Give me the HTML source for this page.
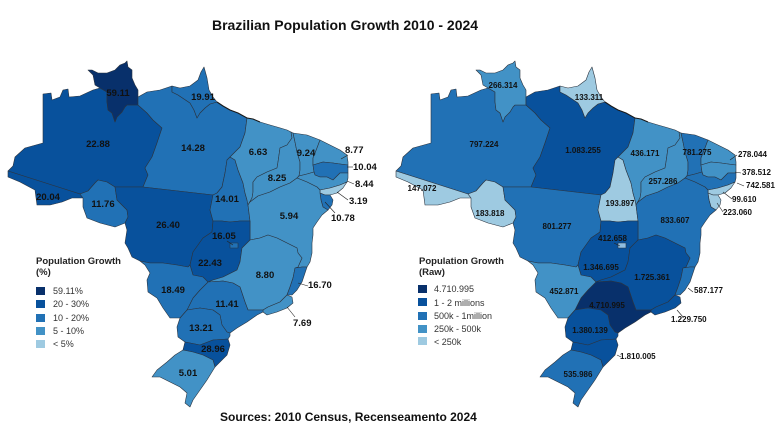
<!DOCTYPE html>
<html><head><meta charset="utf-8"><style>
html,body{margin:0;padding:0;background:#fff;}
svg{display:block;}
.l{font-family:"Liberation Sans",Arial,sans-serif;font-weight:bold;font-size:9.5px;fill:#111;text-anchor:middle;}
.r{font-family:"Liberation Sans",Arial,sans-serif;font-weight:bold;font-size:8px;fill:#111;text-anchor:middle;}
.ls{text-anchor:start;}
.lg{font-family:"Liberation Sans",Arial,sans-serif;font-size:9px;fill:#333;}
.lt{font-family:"Liberation Sans",Arial,sans-serif;font-size:9.5px;font-weight:bold;fill:#222;}
</style></head><body>
<svg width="780" height="429" viewBox="0 0 780 429" xmlns="http://www.w3.org/2000/svg">
<rect width="780" height="429" fill="#fff"/>
<defs>
<polygon id="AM" points="43,94 51,93 52,100 60,97 63,90 68,89 69,97 80,96 93,90 100,88 107,92 107,102 108,110 112,113 115,122 117,117 122,112 125,107 127,105 138,105 147,113 153,120 162,128 157,143 152,157 145,168 148,175 143,187 115,187 107,182 98,180 95,183 88,191 80,194 8,171 13,166 15,157 25,148 43,143"/>
<polygon id="RR" points="100,88 95,85 93,75 88,70 92,70 98,73 107,73 115,70 120,65 125,63 127,61 128,67 132,70 132,78 135,85 138,90 138,105 127,105 125,107 122,112 117,117 115,122 112,113 108,110 107,102 107,92"/>
<polygon id="AC" points="8,171 80,194 83,198 72,198 62,202 50,205 37,205 35,190 20,182 8,177"/>
<polygon id="RO" points="80,194 88,191 95,183 98,180 107,182 115,187 117,200 127,210 128,217 125,223 115,227 100,223 87,218 83,207 83,198"/>
<polygon id="PA" points="138,97 147,92 160,90 172,86 172,92 178,95 184,99 190,103 194,110 197,118 200,113 205,108 210,104 217,102 223,106 230,110 238,113 247,118 245,133 240,147 230,157 227,160 225,173 222,187 217,193 213,195 143,187 148,175 145,168 152,157 157,143 162,128 153,120 147,113 138,105"/>
<polygon id="AP" points="172,86 180,88 190,86 198,80 201,72 204,67 207,78 209,90 213,97 217,102 210,104 205,108 200,113 197,118 194,110 190,103 184,99 178,95 172,92"/>
<polygon id="MT" points="115,187 143,187 213,195 210,210 213,221 212,232 203,238 193,252 190,265 188,267 177,265 163,263 150,263 140,261 132,257 128,248 125,243 127,230 125,223 128,217 127,210 117,200"/>
<polygon id="TO" points="213,195 217,193 222,187 225,173 227,160 230,157 235,160 238,170 243,183 245,193 247,200 248,205 250,221 240,221 230,222 222,221 213,221 210,210"/>
<polygon id="MA" points="247,118 253,119 260,122 270,125 277,127 287,130 291,132 292,138 287,145 280,148 278,162 277,168 267,172 257,177 253,182 253,192 252,198 248,205 247,200 245,193 243,183 238,170 235,160 230,157 240,147 245,133"/>
<polygon id="PI" points="291,132 293,133 295,142 297,152 300,162 300,170 299,176 297,178 290,183 280,187 270,192 258,196 250,202 248,205 252,198 253,192 253,182 257,177 267,172 277,168 278,162 280,148 287,145 292,138"/>
<polygon id="CE" points="293,133 307,135 320,140 317,148 313,158 313,165 314,172 307,174 299,176 300,170 300,162 297,152 295,142"/>
<polygon id="RN" points="320,140 330,145 340,150 347,155 348,162 348,165 340,164 333,163 323,162 313,165 313,158 317,148"/>
<polygon id="PB" points="313,165 323,162 333,163 340,164 348,165 348,173 340,173 333,180 327,177 320,177 315,175 314,172"/>
<polygon id="PE" points="299,176 307,174 314,172 315,175 320,177 327,177 333,180 340,173 348,173 348,178 347,182 340,185 330,188 320,190 317,187 307,182 297,178"/>
<polygon id="AL" points="320,190 330,188 340,185 347,182 343,188 337,193 330,195 325,195 320,193"/>
<polygon id="SE" points="320,193 325,195 330,195 333,200 332,205 328,210 323,207 321,200"/>
<polygon id="BA" points="248,205 250,202 258,196 270,192 280,187 290,183 297,178 307,182 317,187 320,190 320,193 321,200 323,207 328,210 322,215 317,222 313,228 313,235 312,243 312,253 310,262 307,267 302,267 295,268 298,267 302,258 298,253 297,248 287,243 277,238 268,235 260,238 250,240 250,221"/>
<polygon id="GO" points="213,221 222,221 230,222 240,221 250,221 250,240 242,248 240,262 237,270 223,277 213,280 208,282 203,277 193,275 190,265 193,252 203,238 212,232"/>
<polygon id="MG" points="250,240 260,238 268,235 277,238 287,243 297,248 298,253 302,258 298,267 295,268 293,278 290,287 287,295 280,302 268,307 263,310 257,310 248,310 245,302 240,287 233,283 223,281 208,282 213,280 223,277 237,270 240,262 242,248"/>
<polygon id="ES" points="295,268 302,267 307,267 305,273 302,282 297,290 292,295 287,295 290,287 293,278"/>
<polygon id="RJ" points="287,295 292,297 293,303 287,308 277,312 267,315 263,312 263,310 268,307 280,302"/>
<polygon id="SP" points="208,282 223,281 233,283 240,287 245,302 248,310 257,310 263,310 263,312 257,315 247,322 237,328 230,333 227,332 222,325 220,315 213,310 200,308 187,310 193,298 200,290"/>
<polygon id="MS" points="140,261 150,263 163,263 177,265 188,267 190,265 193,275 203,277 208,282 200,290 193,298 187,310 180,318 170,318 163,308 157,298 148,292 147,280 150,273 145,265"/>
<polygon id="PR" points="187,310 200,308 213,310 220,315 222,325 227,332 230,333 230,336 228,339 213,340 200,345 185,342 178,337 177,327 180,318"/>
<polygon id="SC" points="185,342 200,345 213,340 228,339 230,345 227,355 220,362 215,367 213,360 203,355 193,352 183,350"/>
<polygon id="RS" points="183,350 193,352 203,355 213,360 215,367 207,380 200,390 193,400 190,407 185,403 187,393 180,387 170,382 160,377 152,377 157,370 167,362 175,355"/>
<rect id="DF" x="230" y="243" width="8" height="5"/>
</defs>

<text x="212" y="30" font-family="Liberation Sans, Arial, sans-serif" font-weight="bold" font-size="14" fill="#111">Brazilian Population Growth 2010 - 2024</text>

<!-- LEFT MAP -->
<g stroke="#2b3440" stroke-width="0.6" stroke-linejoin="round">
<use href="#AM" fill="#08519c"/>
<use href="#RR" fill="#08306b"/>
<use href="#AC" fill="#08519c"/>
<use href="#RO" fill="#2171b5"/>
<use href="#PA" fill="#2171b5"/>
<use href="#AP" fill="#2171b5"/>
<use href="#MT" fill="#08519c"/>
<use href="#TO" fill="#2171b5"/>
<use href="#MA" fill="#4292c6"/>
<use href="#PI" fill="#4292c6"/>
<use href="#CE" fill="#4292c6"/>
<use href="#RN" fill="#4292c6"/>
<use href="#PB" fill="#2171b5"/>
<use href="#PE" fill="#4292c6"/>
<use href="#AL" fill="#9ecae1"/>
<use href="#SE" fill="#2171b5"/>
<use href="#BA" fill="#4292c6"/>
<use href="#GO" fill="#08519c"/>
<use href="#MG" fill="#4292c6"/>
<use href="#ES" fill="#2171b5"/>
<use href="#RJ" fill="#4292c6"/>
<use href="#SP" fill="#2171b5"/>
<use href="#MS" fill="#2171b5"/>
<use href="#PR" fill="#2171b5"/>
<use href="#SC" fill="#08519c"/>
<use href="#RS" fill="#4292c6"/>
<use href="#DF" fill="#2171b5"/>
</g>
<polyline points="217,102 223,106 230,110 238,113 247,118 253,119 260,122" fill="none" stroke="#1a1a1a" stroke-width="1.1"/>
<g stroke="#222" stroke-width="0.6" fill="none">
<line x1="341" y1="159" x2="348" y2="155"/>
<line x1="347" y1="167" x2="353" y2="167"/>
<line x1="347" y1="181" x2="354" y2="184"/>
<line x1="337" y1="192" x2="348" y2="200"/>
<line x1="325" y1="202" x2="335" y2="213"/>
<line x1="227" y1="241" x2="233" y2="245"/>
<line x1="298" y1="283" x2="308" y2="286"/>
<line x1="287" y1="307" x2="295" y2="317"/>
</g>
<text class="l" x="118" y="96">59.11</text>
<text class="l" x="203" y="100">19.91</text>
<text class="l" x="98" y="147">22.88</text>
<text class="l" x="193" y="151">14.28</text>
<text class="l" x="258" y="155">6.63</text>
<text class="l" x="306" y="156">9.24</text>
<text class="l" x="277" y="181">8.25</text>
<text class="l" x="48" y="200">20.04</text>
<text class="l" x="103" y="207">11.76</text>
<text class="l" x="227" y="202">14.01</text>
<text class="l" x="289" y="219">5.94</text>
<text class="l" x="168" y="228">26.40</text>
<text class="l" x="210" y="266">22.43</text>
<text class="l" x="265" y="278">8.80</text>
<text class="l" x="173" y="293">18.49</text>
<text class="l" x="227" y="307">11.41</text>
<text class="l" x="201" y="331">13.21</text>
<text class="l" x="213" y="352">28.96</text>
<text class="l" x="188" y="376">5.01</text>
<text class="l ls" x="345" y="153">8.77</text>
<text class="l ls" x="353" y="170">10.04</text>
<text class="l ls" x="355" y="187">8.44</text>
<text class="l ls" x="349" y="204">3.19</text>
<text class="l ls" x="331" y="221">10.78</text>
<text class="l ls" x="212" y="239">16.05</text>
<text class="l ls" x="308" y="288">16.70</text>
<text class="l ls" x="293" y="326">7.69</text>

<!-- left legend -->
<text class="lt" x="36" y="264">Population Growth</text>
<text class="lt" x="36" y="275">(%)</text>
<rect x="36" y="287" width="9" height="8" fill="#08306b"/>
<rect x="36" y="300" width="9" height="8" fill="#08519c"/>
<rect x="36" y="314" width="9" height="8" fill="#2171b5"/>
<rect x="36" y="327" width="9" height="8" fill="#4292c6"/>
<rect x="36" y="340" width="9" height="8" fill="#9ecae1"/>
<text class="lg" x="53" y="294">59.11%</text>
<text class="lg" x="53" y="307">20 - 30%</text>
<text class="lg" x="53" y="321">10 - 20%</text>
<text class="lg" x="53" y="334">5 - 10%</text>
<text class="lg" x="53" y="347">&lt; 5%</text>

<!-- RIGHT MAP -->
<g transform="translate(388,0)" stroke="#2b3440" stroke-width="0.6" stroke-linejoin="round">
<use href="#AM" fill="#2171b5"/>
<use href="#RR" fill="#4292c6"/>
<use href="#AC" fill="#9ecae1"/>
<use href="#RO" fill="#9ecae1"/>
<use href="#PA" fill="#08519c"/>
<use href="#AP" fill="#9ecae1"/>
<use href="#MT" fill="#2171b5"/>
<use href="#TO" fill="#9ecae1"/>
<use href="#MA" fill="#4292c6"/>
<use href="#PI" fill="#4292c6"/>
<use href="#CE" fill="#2171b5"/>
<use href="#RN" fill="#4292c6"/>
<use href="#PB" fill="#4292c6"/>
<use href="#PE" fill="#2171b5"/>
<use href="#AL" fill="#9ecae1"/>
<use href="#SE" fill="#9ecae1"/>
<use href="#BA" fill="#2171b5"/>
<use href="#GO" fill="#08519c"/>
<use href="#MG" fill="#08519c"/>
<use href="#ES" fill="#2171b5"/>
<use href="#RJ" fill="#08519c"/>
<use href="#SP" fill="#08306b"/>
<use href="#MS" fill="#4292c6"/>
<use href="#PR" fill="#08519c"/>
<use href="#SC" fill="#08519c"/>
<use href="#RS" fill="#2171b5"/>
<use href="#DF" fill="#8fbde0"/>
</g>
<polyline transform="translate(388,0)" points="217,102 223,106 230,110 238,113 247,118 253,119 260,122" fill="none" stroke="#1a1a1a" stroke-width="1.1"/>
<g stroke="#222" stroke-width="0.6" fill="none">
<line x1="730" y1="160" x2="737" y2="155"/>
<line x1="735" y1="172" x2="741" y2="173"/>
<line x1="737" y1="183" x2="744" y2="186"/>
<line x1="723" y1="192" x2="732" y2="199"/>
<line x1="717" y1="203" x2="723" y2="212"/>
<line x1="614" y1="243" x2="620" y2="246"/>
<line x1="688" y1="288" x2="693" y2="292"/>
<line x1="677" y1="310" x2="683" y2="317"/>
<line x1="617" y1="355" x2="621" y2="357"/>
</g>
<text class="r" x="503" y="88">266.314</text>
<text class="r" x="589" y="100">133.311</text>
<text class="r" x="484" y="147">797.224</text>
<text class="r" x="583" y="153">1.083.255</text>
<text class="r" x="645" y="156">436.171</text>
<text class="r" x="697" y="155">781.275</text>
<text class="r" x="663" y="184">257.286</text>
<text class="r" x="422" y="191">147.072</text>
<text class="r" x="490" y="216">183.818</text>
<text class="r" x="620" y="206">193.897</text>
<text class="r" x="557" y="229">801.277</text>
<text class="r" x="675" y="223">833.607</text>
<text class="r" x="601" y="270">1.346.695</text>
<text class="r" x="652" y="280">1.725.361</text>
<text class="r" x="564" y="294">452.871</text>
<text class="r" x="607" y="308">4.710.995</text>
<text class="r" x="590" y="333">1.380.139</text>
<text class="r" x="578" y="377">535.986</text>
<text class="r ls" x="738" y="157">278.044</text>
<text class="r ls" x="742" y="175">378.512</text>
<text class="r ls" x="746" y="188">742.581</text>
<text class="r ls" x="732" y="202">99.610</text>
<text class="r ls" x="723" y="215">223.060</text>
<text class="r ls" x="598" y="241">412.658</text>
<text class="r ls" x="694" y="293">587.177</text>
<text class="r ls" x="671" y="322">1.229.750</text>
<text class="r ls" x="620" y="359">1.810.005</text>

<!-- right legend -->
<text class="lt" x="419" y="264">Population Growth</text>
<text class="lt" x="419" y="275">(Raw)</text>
<rect x="418" y="285" width="9" height="8" fill="#08306b"/>
<rect x="418" y="298" width="9" height="8" fill="#08519c"/>
<rect x="418" y="312" width="9" height="8" fill="#2171b5"/>
<rect x="418" y="325" width="9" height="8" fill="#4292c6"/>
<rect x="418" y="337" width="9" height="8" fill="#9ecae1"/>
<text class="lg" x="434" y="292">4.710.995</text>
<text class="lg" x="434" y="306">1 - 2 millions</text>
<text class="lg" x="434" y="319">500k - 1million</text>
<text class="lg" x="434" y="332">250k - 500k</text>
<text class="lg" x="434" y="345">&lt; 250k</text>

<text x="220" y="421" font-family="Liberation Sans, Arial, sans-serif" font-weight="bold" font-size="12" fill="#111">Sources: 2010 Census, Recenseamento 2024</text>
</svg>
</body></html>
